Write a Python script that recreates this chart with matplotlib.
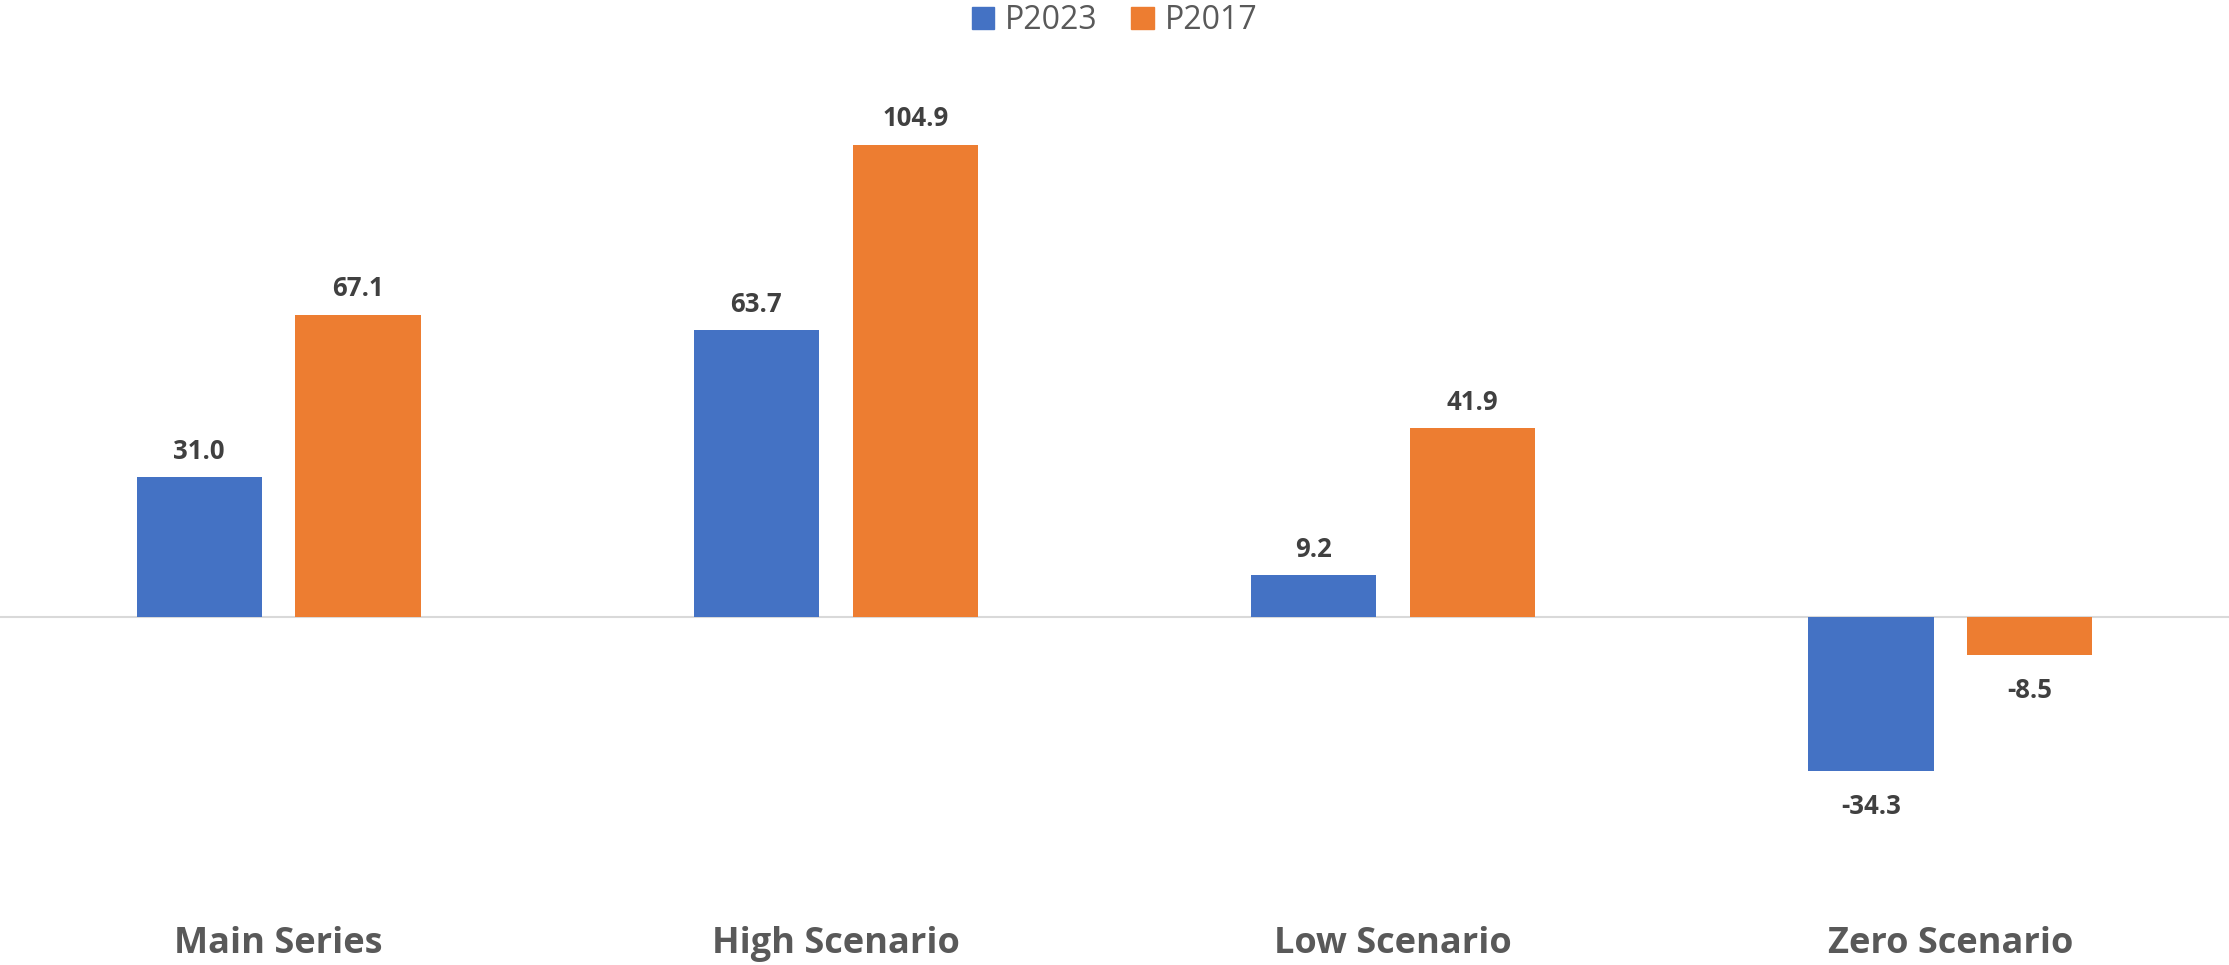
import numpy as np
import matplotlib
matplotlib.use("Agg")
import matplotlib.pyplot as plt
from matplotlib.patches import Patch

# data
categories = ["Main Series", "High Scenario", "Low Scenario", "Zero Scenario"]
p2023 = [31.0, 63.7, 9.2, -34.3]
p2017 = [67.1, 104.9, 41.9, -8.5]

blue = "#4472C4"
orange = "#ED7D31"

plt.rcParams['font.family'] = ['Open Sans', 'DejaVu Sans']

fig = plt.figure(figsize=(22.29, 9.65), dpi=100)
# axes spans whole width; vertical pixel range 40..890
ax = fig.add_axes([0, (965 - 890) / 965, 1, 850 / 965])

x = np.arange(len(categories))
w = 0.2245
off = 0.1425
b1 = ax.bar(x - off, p2023, w, color=blue, zorder=2)
b2 = ax.bar(x + off, p2017, w, color=orange, zorder=2)

ax.axhline(0, color="#d9d9d9", lw=1.5, zorder=1)

for bars, vals in [(b1, p2023), (b2, p2017)]:
    labs = ax.bar_label(bars, fmt="%.1f", padding=9, fontsize=18.5,
                        fontweight="bold", color="#404040")
    # negative labels sit a bit further from the bar end
    for lab, v in zip(labs, vals):
        if v < 0:
            lab.xyann = (0, -16)

ax.set_xlim(-0.5, 3.5)
ax.set_ylim(-(890 - 616.7) / 4.497, (616.7 - 40) / 4.497)
ax.set_xticks(x)
ax.set_xticklabels(categories, fontsize=26, fontweight="bold", color="#595959")
ax.tick_params(axis="x", length=0, pad=26)
ax.set_yticks([])
for s in ax.spines.values():
    s.set_visible(False)

handles = [Patch(color=blue, label="P2023"), Patch(color=orange, label="P2017")]
fig.legend(handles=handles, loc="upper center", bbox_to_anchor=(0.5, 1.012), ncol=2,
           frameon=False, fontsize=23, labelcolor="#595959",
           handlelength=0.7, handleheight=0.7, handletextpad=0.35,
           columnspacing=1.05, borderpad=0)

fig.savefig("out.png", dpi=100)
